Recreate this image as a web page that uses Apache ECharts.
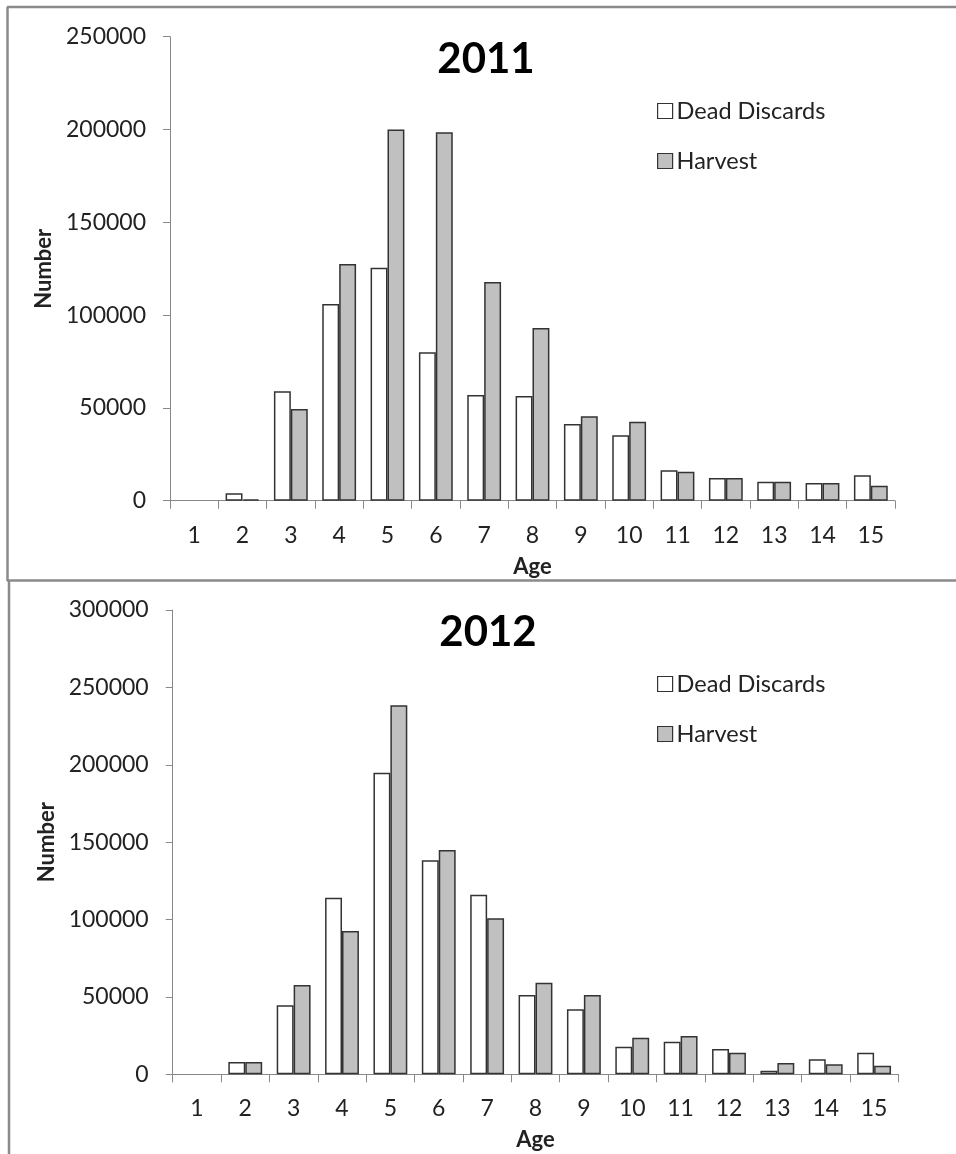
<!DOCTYPE html>
<html>
<head>
<meta charset="utf-8">
<script src="https://cdn.jsdelivr.net/npm/echarts@6/dist/echarts.min.js"></script>
<style>
  html, body { margin: 0; padding: 0; background: #fff; }
  #chart { width: 956px; height: 1154px; }
</style>
</head>
<body>
<div id="chart"></div>
<script>
// ---- data ----
const ages = ['1','2','3','4','5','6','7','8','9','10','11','12','13','14','15'];
const seriesNames = ['Dead Discards', 'Harvest'];
const titles = ['2011', '2012'];

const discards2011 = [0, 4000, 59000, 106000, 125500, 80000, 57000, 56400, 41300, 35200, 16400, 12200, 10200, 9500, 13700];
const harvest2011  = [0, 800, 49400, 127500, 200000, 198500, 117800, 93000, 45500, 42600, 15600, 12200, 10200, 9500, 8100];

const discards2012 = [0, 8000, 44600, 114100, 194900, 138300, 116000, 51200, 42000, 17800, 21100, 16300, 2300, 9700, 14000];
const harvest2012  = [0, 8000, 57700, 92600, 238400, 144900, 100800, 59200, 51200, 23600, 24700, 14000, 7300, 6500, 5600];

const yTicks2011 = { min: 0, max: 250000, interval: 50000 };
const yTicks2012 = { min: 0, max: 300000, interval: 50000 };

// ---- styles ----
const FONT = 'Lato';
const TEXT = '#222';
const AXIS = '#888';
const BORDER = '#333';

const chart = echarts.init(document.getElementById('chart'), null, { renderer: 'canvas' });

function xAxis(gridIndex) {
  return {
    type: 'category', gridIndex, data: ages,
    name: 'Age', nameLocation: 'middle', nameGap: 55,
    nameTextStyle: { fontFamily: FONT, fontWeight: 'bold', fontSize: 22, color: TEXT },
    axisLine: { lineStyle: { color: AXIS, width: 1 } },
    axisTick: { show: true, length: 8, lineStyle: { color: AXIS } },
    axisLabel: { fontFamily: FONT, fontSize: 23, color: TEXT, margin: 23 },
    splitLine: { show: false }
  };
}
function yAxis(gridIndex, t) {
  return {
    type: 'value', gridIndex, min: t.min, max: t.max, interval: t.interval,
    name: 'Number', nameLocation: 'middle', nameGap: 113, nameRotate: 90,
    nameTextStyle: { fontFamily: FONT, fontWeight: 'bold', fontSize: 22, color: TEXT },
    axisLine: { show: true, lineStyle: { color: AXIS, width: 1 } },
    axisTick: { show: true, length: 7, lineStyle: { color: AXIS } },
    axisLabel: { fontFamily: FONT, fontSize: 23, color: TEXT, margin: 24,
                 formatter: v => String(v) },
    splitLine: { show: false }
  };
}
// zero values are drawn as empty (no bar outline), like the original
const asBars = arr => arr.map(v => (v === 0 ? '-' : v));
function bars(name, data, idx, fill) {
  return {
    type: 'bar', name, data: asBars(data), xAxisIndex: idx, yAxisIndex: idx,
    barGap: '0%', barCategoryGap: '30%',
    itemStyle: { color: fill, borderColor: BORDER, borderWidth: 1.5 },
    emphasis: { disabled: true },
    animation: false
  };
}
function legend(top) {
  return {
    orient: 'vertical', left: 657, top, padding: 0,
    itemWidth: 15, itemHeight: 15, itemGap: 26,
    icon: 'rect',
    data: seriesNames.map(n => ({ name: n })),
    textStyle: { fontFamily: FONT, fontSize: 23.5, color: TEXT, padding: [0, 0, 0, -1] },
    itemStyle: { borderColor: BORDER, borderWidth: 1.2 },
    selectedMode: false
  };
}

const option = {
  backgroundColor: '#fff',
  animation: false,
  title: [
    { text: titles[0], left: 486, top: 38, padding: 0, textAlign: 'center',
      textStyle: { fontFamily: FONT, fontWeight: 'bold', fontSize: 42, color: '#000' } },
    { text: titles[1], left: 488, top: 611, padding: 0, textAlign: 'center',
      textStyle: { fontFamily: FONT, fontWeight: 'bold', fontSize: 42, color: '#000' } }
  ],
  legend: [legend(99), legend(672)],
  grid: [
    { left: 170, top: 36.7, width: 725, height: 464 },
    { left: 172.7, top: 610, width: 725.6, height: 464.3 }
  ],
  xAxis: [xAxis(0), xAxis(1)],
  yAxis: [yAxis(0, yTicks2011), yAxis(1, yTicks2012)],
  series: [
    bars(seriesNames[0], discards2011, 0, '#ffffff'),
    bars(seriesNames[1], harvest2011, 0, '#c0c0c0'),
    bars(seriesNames[0], discards2012, 1, '#ffffff'),
    bars(seriesNames[1], harvest2012, 1, '#c0c0c0')
  ],
  graphic: [
    { type: 'line', shape: { x1: 7.5, y1: 7, x2: 7.5, y2: 581 }, style: { stroke: '#8a8a8a', lineWidth: 2.5 }, silent: true },
    { type: 'line', shape: { x1: 7, y1: 7, x2: 956, y2: 7 }, style: { stroke: '#8a8a8a', lineWidth: 2.5 }, silent: true },
    { type: 'line', shape: { x1: 7, y1: 580.5, x2: 956, y2: 580.5 }, style: { stroke: '#8a8a8a', lineWidth: 2.5 }, silent: true },
    { type: 'line', shape: { x1: 9, y1: 580, x2: 9, y2: 1154 }, style: { stroke: '#8a8a8a', lineWidth: 2.5 }, silent: true }
  ]
};
chart.setOption(option);
</script>
</body>
</html>
